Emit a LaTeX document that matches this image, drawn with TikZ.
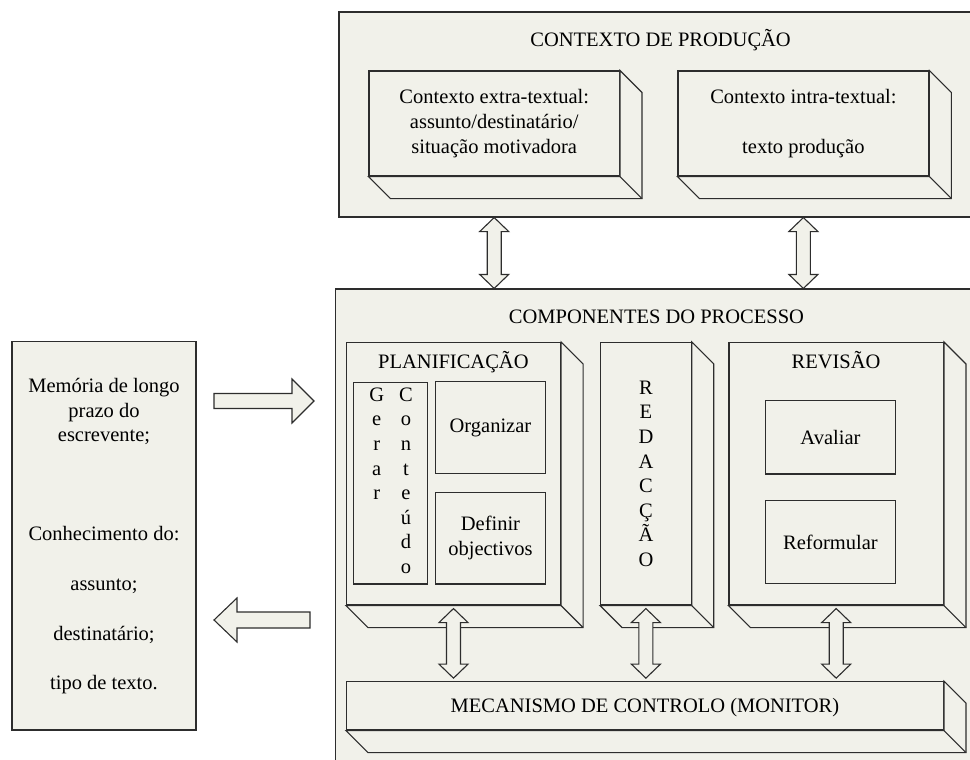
\documentclass[tikz,border=0pt]{standalone}
\usepackage{fontspec}
\setmainfont{Liberation Serif}
\usetikzlibrary{calc}
\definecolor{boxfill}{RGB}{241,241,234}
\definecolor{linec}{RGB}{45,45,45}
\tikzset{
  box/.style={draw=linec, fill=boxfill, line width=1.1pt, inner sep=0pt, align=center},
  outl/.style={draw=linec, fill=boxfill, line width=1.1pt, line join=miter},
  lbl/.style={inner sep=0pt, anchor=base},
  vdarrow/.style={outl, to path={
    -- ([xshift=14.5pt,yshift=-14pt]\tikztostart)
    -- ([xshift=7pt,yshift=-14pt]\tikztostart)
    -- ([xshift=7pt,yshift=14pt]\tikztotarget)
    -- ([xshift=14.5pt,yshift=14pt]\tikztotarget)
    -- (\tikztotarget)
    -- ([xshift=-14.5pt,yshift=14pt]\tikztotarget)
    -- ([xshift=-7pt,yshift=14pt]\tikztotarget)
    -- ([xshift=-7pt,yshift=-14pt]\tikztostart)
    -- ([xshift=-14.5pt,yshift=-14pt]\tikztostart)
    -- cycle}},
  rarrow/.style={outl, to path={
    -- ([yshift=7.5pt]\tikztostart)
    -- ([xshift=-22pt,yshift=7.5pt]\tikztotarget)
    -- ([xshift=-22pt,yshift=22pt]\tikztotarget)
    -- (\tikztotarget)
    -- ([xshift=-22pt,yshift=-22pt]\tikztotarget)
    -- ([xshift=-22pt,yshift=-7.5pt]\tikztotarget)
    -- ([yshift=-7.5pt]\tikztostart)
    -- cycle}},
  larrow/.style={outl, to path={
    -- ([yshift=8pt]\tikztostart)
    -- ([xshift=23pt,yshift=8pt]\tikztotarget)
    -- ([xshift=23pt,yshift=22pt]\tikztotarget)
    -- (\tikztotarget)
    -- ([xshift=23pt,yshift=-22pt]\tikztotarget)
    -- ([xshift=23pt,yshift=-8pt]\tikztotarget)
    -- ([yshift=-8pt]\tikztostart)
    -- cycle}},
}
\newcommand\bevelfor[1]{%
  \draw[outl] (#1.north east) -- ++(22pt,-22pt) |- ([shift={(22pt,-22pt)}]#1.south west)
     -- (#1.south west) -- (#1.south east) -- cycle;
  \draw[outl] (#1.south east) -- ++(22pt,-22pt);}
\begin{document}
\begin{tikzpicture}[x=1pt,y=-1pt,font=\fontsize{20.5}{24.6}\selectfont]
\useasboundingbox (0,0) rectangle (970,760);
\clip (0,0) rectangle (970,760);
\fill[white] (0,0) rectangle (970,760);

% Contexto de producao
\node[box, minimum width=646pt, minimum height=205pt] (ctx) at (662,114.5) {};
\node[lbl] (ctxtitle) at (660.6,46.7) {CONTEXTO DE PRODUÇÃO};
\node[box, minimum width=250.4pt, minimum height=105pt] (cx1) at (494.2,123.5)
  {Contexto extra-textual:\\assunto/destinatário/\\situação motivadora};
\bevelfor{cx1}
\node[box, minimum width=250.8pt, minimum height=105pt] (cx2) at (803.4,123.5)
  {Contexto intra-textual:\\[24.6pt]texto produção};
\bevelfor{cx2}

% Componentes do processo
\node[box, minimum width=642pt, minimum height=511pt] (comp) at (656.5,544.5) {};
\node[lbl] (comptitle) at (656.5,323.3) {COMPONENTES DO PROCESSO};

\node[box, minimum width=214pt, minimum height=262.5pt] (plan) at (453.5,473.75) {};
\bevelfor{plan}
\node[lbl] (plantitle) at (453.4,368.3) {PLANIFICAÇÃO};
\node[box, minimum width=74.2pt, minimum height=201.7pt] (gerar) at (390.6,483.15) {};
\foreach \c [count=\i] in {G,e,r,a,r}
  \node[lbl] (g\i) at (376.7,{401.2+24.6*(\i-1)}) {\c};
\foreach \c [count=\i] in {C,o,n,t,e,ú,d,o}
  \node[lbl] (c\i) at (406,{401.2+24.6*(\i-1)}) {\c};
\node[box, minimum width=110.3pt, minimum height=92.4pt] (org) at (490.45,427.5) {Organizar};
\node[box, minimum width=110.3pt, minimum height=91.7pt] (def) at (490.45,538.15) {Definir\\objectivos};

\node[box, minimum width=90.6pt, minimum height=262.5pt] (red) at (645.9,473.75)
  {R\\E\\D\\A\\C\\Ç\\Ã\\O};
\bevelfor{red}

\node[box, minimum width=214.4pt, minimum height=262.5pt] (rev) at (836.2,473.75) {};
\bevelfor{rev}
\node[lbl] (revtitle) at (836,368.3) {REVISÃO};
\node[box, minimum width=129.3pt, minimum height=73.3pt] (aval) at (830.45,437.35) {Avaliar};
\node[box, minimum width=129.3pt, minimum height=82.6pt] (refo) at (830.45,542) {Reformular};

\node[box, minimum width=596.9pt, minimum height=48.3pt, text height=13.6pt, text depth=0pt] (mec) at (644.95,705.85)
  {MECANISMO DE CONTROLO (MONITOR)};
\bevelfor{mec}

% Memoria
\node[box, minimum width=184pt, minimum height=388.3pt] (mem) at (104,535.85)
  {Memória de longo\\prazo do\\escrevente;\\[74.3pt]Conhecimento do:\\[25.3pt]assunto;\\[25.3pt]destinatário;\\[24.3pt]tipo de texto.};

% double arrows
\coordinate (a1s) at (cx1 |- ctx.south);
\coordinate (a1e) at (cx1 |- comp.north);
\coordinate (a2s) at (cx2 |- ctx.south);
\coordinate (a2e) at (cx2 |- comp.north);
\draw[vdarrow] (a1s) to (a1e);
\draw[vdarrow] (a2s) to (a2e);

\coordinate (b1s) at ($(plan.south)+(0,3)$);
\coordinate (b1e) at ($(plan.south |- mec.north)+(0,-3)$);
\coordinate (b2s) at ($(red.south)+(0,3)$);
\coordinate (b2e) at ($(red.south |- mec.north)+(0,-3)$);
\coordinate (b3s) at ($(rev.south)+(0,3)$);
\coordinate (b3e) at ($(rev.south |- mec.north)+(0,-3)$);
\draw[vdarrow] (b1s) to (b1e);
\draw[vdarrow] (b2s) to (b2e);
\draw[vdarrow] (b3s) to (b3e);

% horizontal arrows
\coordinate (r0) at (214,401);
\coordinate (r1) at (314,401);
\draw[rarrow] (r0) to (r1);
\coordinate (l0) at (310,620);
\coordinate (l1) at (214,620);
\draw[larrow] (l0) to (l1);
\end{tikzpicture}
\end{document}
